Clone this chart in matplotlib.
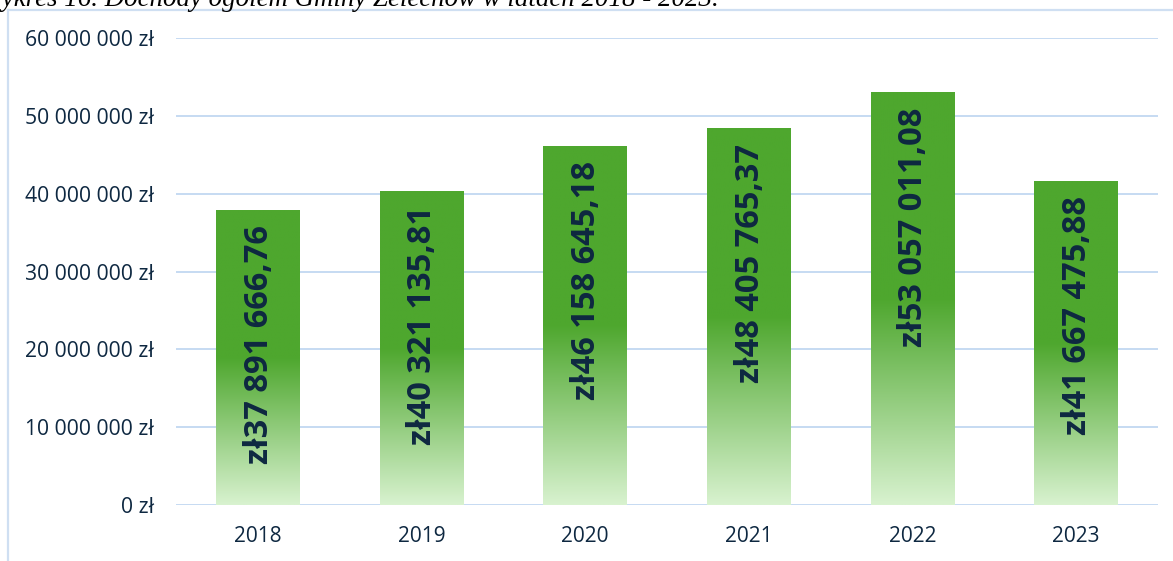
import numpy as np
import matplotlib.pyplot as plt
from matplotlib.colors import to_rgb
from matplotlib.lines import Line2D

years = ['2018', '2019', '2020', '2021', '2022', '2023']
values = [37891666.76, 40321135.81, 46158645.18, 48405765.37, 53057011.08, 41667475.88]
y_ticks = [0, 10000000, 20000000, 30000000, 40000000, 50000000, 60000000]

title = 'Wykres 16. Dochody ogółem Gminy Żelechów w latach 2018 - 2023.'

green_top = '#4EA72E'
green_bottom = '#D8F2CF'
text_color = '#0E2841'
grid_color = '#C6DAF2'
frame_color = '#CFDFF2'


def pln(v, decimals=0):
    s = f"{v:,.{decimals}f}".replace(',', ' ').replace('.', ',')
    return s


def gradient_image(n=200):
    top = np.array(to_rgb(green_top))
    bot = np.array(to_rgb(green_bottom))
    t = np.linspace(0, 1, n)
    k = np.clip((t - 0.5) / 0.5, 0, 1)[:, None]
    rows = top * (1 - k) + bot * k
    return rows[:, None, :]


fig = plt.figure(figsize=(11.73, 5.61), dpi=100)
ax = fig.add_axes([176 / 1173, 56 / 561, 982 / 1173, 467 / 561])

x = np.arange(len(years))
bars = ax.bar(x, values, width=0.51, color='none', edgecolor='none', zorder=2)

img = gradient_image()
for rect, v in zip(bars, values):
    x0 = rect.get_x()
    im = ax.imshow(img, extent=(x0, x0 + rect.get_width(), 0, rect.get_height()),
                   aspect='auto', origin='upper', zorder=2, interpolation='bilinear')
    im.set_clip_path(rect)
    ax.annotate('zł' + pln(v, 2), xy=(rect.get_x() + rect.get_width() / 2, v),
                xytext=(1, -11), textcoords='offset points',
                rotation=90, ha='center', va='top',
                fontsize=23.5, fontweight='bold', family='Open Sans',
                color=text_color, zorder=3)

ax.set_xlim(-0.5, len(years) - 0.5)
ax.set_ylim(0, 60000000)
ax.set_yticks(y_ticks)
ax.set_yticklabels([pln(v) + ' zł' for v in y_ticks])
ax.set_xticks(x)
ax.set_xticklabels(years)

ax.grid(axis='y', color=grid_color, linewidth=1.4)
ax.set_axisbelow(True)
for s in ax.spines.values():
    s.set_visible(False)
ax.tick_params(axis='y', length=0, pad=16, labelsize=15.2, labelcolor=text_color)
ax.tick_params(axis='x', length=0, pad=15, labelsize=15, labelcolor=text_color)
for lab in ax.get_xticklabels() + ax.get_yticklabels():
    lab.set_family('Open Sans')

# outer frame of the chart area
fig.add_artist(Line2D([7.5 / 1173, 7.5 / 1173], [0, 1 - 9.5 / 561],
                      transform=fig.transFigure, color=frame_color, lw=1.6))
fig.add_artist(Line2D([7.5 / 1173, 1], [1 - 9.5 / 561, 1 - 9.5 / 561],
                      transform=fig.transFigure, color=frame_color, lw=1.6))

fig.text(719 / 1173, 1 - 6.5 / 561, title, ha='right', va='baseline',
         fontsize=19.4, style='italic', family='Liberation Serif', color='#000000')

fig.savefig('out.png', dpi=100)
